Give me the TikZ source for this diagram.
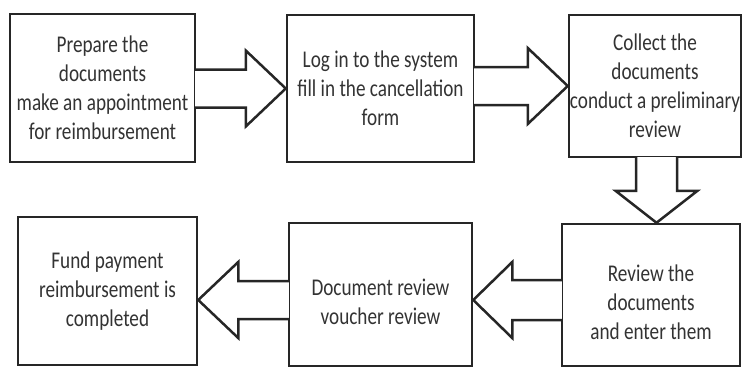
\documentclass[tikz,border=0pt]{standalone}
\usepackage{fontspec}
\setmainfont[FakeStretch=0.8]{Carlito}
\usetikzlibrary{calc}
\tikzset{
  stage/.style={draw=black!85, line width=2.5pt, fill=white, align=center,
    inner sep=0pt, text=black!80, font=\fontsize{24}{29}\selectfont},
  flow/.style={draw=black!85, line width=2.5pt, fill=white, line join=miter}
}
\newcommand\sinkline{\rule{0pt}{32pt}}
\begin{document}
\begin{tikzpicture}[x=1pt,y=-1pt]
\useasboundingbox (0,0) rectangle (744,370);
% top row
\node[stage, minimum width=185, minimum height=148] (prep) at (102.5,88)
  {Prepare the\\documents\\make an appointment\\for reimbursement};
\node[stage, minimum width=187, minimum height=147] (login) at (380.5,88.5)
  {Log in to the system\\fill in the cancellation\\form};
\node[stage, minimum width=172, minimum height=142] (coll) at (655,86)
  {Collect the\\documents\\conduct a preliminary\\review};
% bottom row
\node[stage, minimum width=178, minimum height=142] (rev) at (651,295)
  {\sinkline Review the\\documents\\and enter them};
\node[stage, minimum width=183, minimum height=143] (vouch) at (380.5,294.5)
  {\sinkline Document review\\voucher review};
\node[stage, minimum width=179, minimum height=148] (fund) at (107.5,291)
  {Fund payment\\reimbursement is\\completed};
% block arrows
\draw[flow] ($(prep.east |- login.west)+(-1.2,-19)$) -- ($(login.west)+(-40,-19)$)
  -- ($(login.west)+(-40,-38)$) -- (login.west) -- ($(login.west)+(-40,38)$)
  -- ($(login.west)+(-40,19)$) -- ($(prep.east |- login.west)+(-1.2,19)$);
\draw[flow] ($(login.east |- coll.west)+(-1.2,-19)$) -- ($(coll.west)+(-40,-19)$)
  -- ($(coll.west)+(-40,-38)$) -- (coll.west) -- ($(coll.west)+(-40,38)$)
  -- ($(coll.west)+(-40,19)$) -- ($(login.east |- coll.west)+(-1.2,19)$);
\coordinate (t3) at ($(coll.south |- rev.north)+(1.5,0)$);
\draw[flow] ($(coll.south -| t3)+(-20.5,-1.2)$) -- ($(t3)+(-20.5,-32)$)
  -- ($(t3)+(-41,-32)$) -- (t3) -- ($(t3)+(41,-32)$)
  -- ($(t3)+(20.5,-32)$) -- ($(coll.south -| t3)+(20.5,-1.2)$);
\coordinate (t4) at ($(vouch.east)+(0,5.5)$);
\draw[flow] ($(rev.west |- t4)+(1.2,-20)$) -- ($(t4)+(39,-20)$)
  -- ($(t4)+(39,-38)$) -- (t4) -- ($(t4)+(39,38)$)
  -- ($(t4)+(39,20)$) -- ($(rev.west |- t4)+(1.2,20)$);
\coordinate (t5) at ($(fund.east)+(0,9)$);
\draw[flow] ($(vouch.west |- t5)+(1.2,-19)$) -- ($(t5)+(40,-19)$)
  -- ($(t5)+(40,-38)$) -- (t5) -- ($(t5)+(40,38)$)
  -- ($(t5)+(40,19)$) -- ($(vouch.west |- t5)+(1.2,19)$);
\end{tikzpicture}
\end{document}
